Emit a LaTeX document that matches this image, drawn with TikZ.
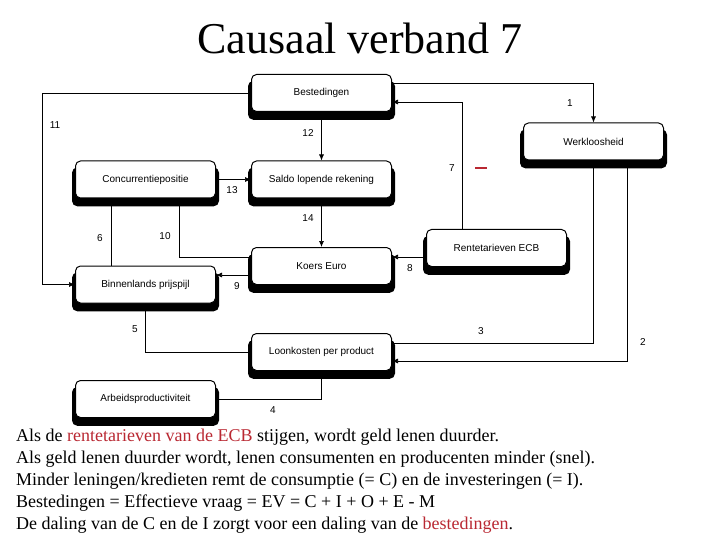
\documentclass[tikz,border=0pt]{standalone}
\usepackage{fontspec}
\setmainfont{Liberation Serif}
\newfontfamily\arial{Liberation Sans}
\usepackage{xcolor}
\usetikzlibrary{shapes,arrows,arrows.meta,positioning,shadows,calc}
\definecolor{donkerrood}{RGB}{185,40,50}

\tikzset{
  blok/.style={rectangle, rounded corners=5pt, draw, line width=1pt, fill=white,
    minimum width=140pt, minimum height=37pt, font=\arial\fontsize{10}{11}\selectfont,
    drop shadow={shadow xshift=0pt, shadow yshift=-7pt, shadow scale=1.05, fill=black, opacity=1}},
  pijl/.style={-{Latex[length=6pt,width=5pt]}, line width=0.7pt},
  nr/.style={font=\arial\fontsize{10}{11}\selectfont}
}

\begin{document}
\begin{tikzpicture}[x=1pt,y=-1pt]
\useasboundingbox (0,0) rectangle (720,540);

% Titel
\node (titel) at (360,38) {\fontsize{44}{48}\selectfont Causaal verband 7};

% Blokken
\node[blok] (best) at (321.5,93) {Bestedingen};
\node[blok] (werk) at (593.5,141.5) {Werkloosheid};
\node[blok] (conc) at (145.5,179.5) {Concurrentiepositie};
\node[blok] (saldo) at (321.5,179.5) {Saldo lopende rekening};
\node[blok] (rente) at (496.5,248) {Rentetarieven ECB};
\node[blok] (koers) at (321.5,266) {Koers Euro};
\node[blok] (binn) at (145.5,284.5) {Binnenlands prijspijl};
\node[blok] (loon) at (321.5,352) {Loonkosten per product};
\node[blok] (arbeid) at (145.5,399) {Arbeidsproductiviteit};

% Verbanden
\coordinate (hoek11) at (42,93);
\draw[pijl] ([yshift=10pt]best.east) -| (werk.north);
\draw[pijl] ([xshift=34pt]werk.south) |- ([yshift=-9pt]loon.east);
\draw[pijl] ([yshift=9pt]loon.east) -| (werk.south);
\draw[pijl] (arbeid.east) -| (loon.south);
\draw[pijl] (loon.west) -| (binn.south);
\draw[pijl] ([xshift=-34pt]binn.north) -- ([xshift=-34pt]conc.south);
\draw[pijl] ([xshift=-34pt]rente.north) |- ([yshift=-9pt]best.east);
\draw[pijl] ([yshift=-9pt]rente.west) -- ([yshift=9pt]koers.east);
\draw[pijl] ([yshift=-9pt]koers.west) -- ([yshift=9.5pt]binn.east);
\draw[pijl] ([yshift=9pt]koers.west) -| ([xshift=34pt]conc.south);
\draw[pijl] (best.west) -- (hoek11) |- (binn.west);
\draw[pijl] (best.south) -- (saldo.north);
\draw[pijl] (conc.east) -- (saldo.west);
\draw[pijl] (saldo.south) -- (koers.north);

% Nummers
\node[nr] (n1) at (570,103) {1};
\node[nr] (n2) at (643,342) {2};
\node[nr] (n3) at (481,331) {3};
\node[nr] (n4) at (273,410) {4};
\node[nr] (n5) at (135,329) {5};
\node[nr] (n6) at (100,238) {6};
\node[nr] (n7) at (452,168) {7};
\node[nr] (n8) at (410,268) {8};
\node[nr] (n9) at (237,286) {9};
\node[nr] (n10) at (165,236) {10};
\node[nr] (n11) at (55,125) {11};
\node[nr] (n12) at (308,133) {12};
\node[nr] (n13) at (232,190) {13};
\node[nr] (n14) at (308,218) {14};
\node[fill=donkerrood, minimum width=12pt, minimum height=2pt, inner sep=0pt] (min7) at (481,168) {};

% Uitleg
\node[anchor=north west, align=left, inner sep=0pt, font=\fontsize{18}{22}\selectfont] (uitleg) at (16,429)
  {Als de \textcolor{donkerrood}{rentetarieven van de ECB} stijgen, wordt geld lenen duurder.\\
   Als geld lenen duurder wordt, lenen consumenten en producenten minder (snel).\\
   Minder leningen/kredieten remt de consumptie (= C) en de investeringen (= I).\\
   Bestedingen = Effectieve vraag = EV = C + I + O + E - M\\
   De daling van de C en de I zorgt voor een daling van de \textcolor{donkerrood}{bestedingen}.};
\end{tikzpicture}
\end{document}
